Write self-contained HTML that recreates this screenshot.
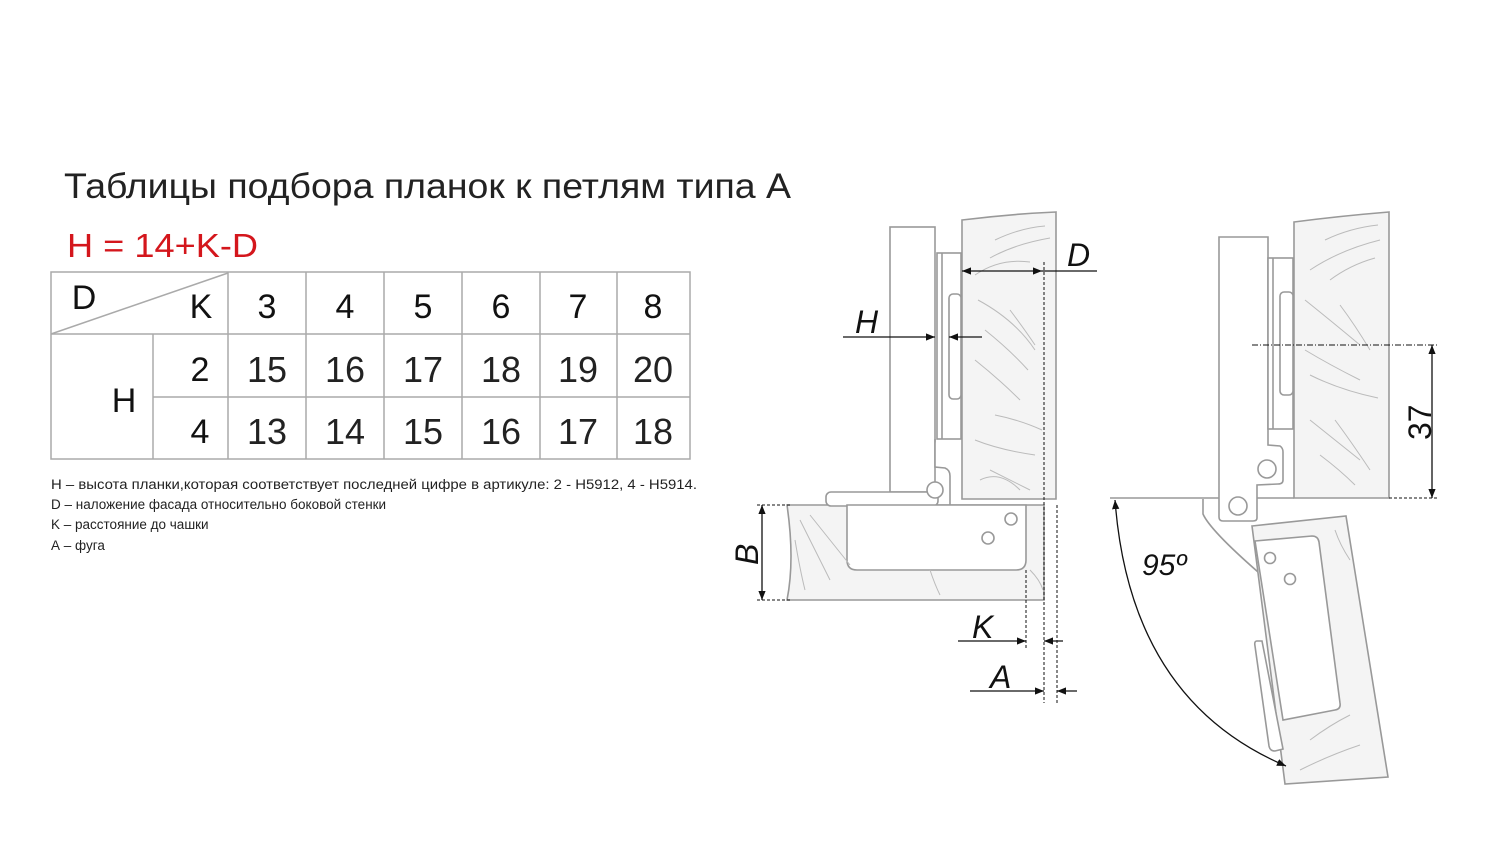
<!DOCTYPE html>
<html><head><meta charset="utf-8"><style>html,body{margin:0;padding:0;background:#fff}svg{display:block}</style></head><body>
<svg width="1500" height="844" viewBox="0 0 1500 844" xmlns="http://www.w3.org/2000/svg" font-family="'Liberation Sans', sans-serif">
<defs>
<marker id="ar" viewBox="0 0 10 10" refX="10" refY="5" markerWidth="7" markerHeight="7" orient="auto-start-reverse"><path d="M0,1 L10,5 L0,9z" fill="#111"/></marker>
</defs>
<!-- Title -->
<text x="64" y="198" font-size="35" fill="#222" textLength="727" lengthAdjust="spacingAndGlyphs">Таблицы подбора планок к петлям типа А</text>
<text x="67" y="257" font-size="33" fill="#d4161c" textLength="191" lengthAdjust="spacingAndGlyphs">H = 14+K-D</text>
<!-- Table -->
<g stroke="#aaa" stroke-width="1.5" fill="none">
<rect x="51" y="272" width="639" height="187"/>
<line x1="51" y1="334" x2="690" y2="334"/>
<line x1="153" y1="397" x2="690" y2="397"/>
<line x1="153" y1="334" x2="153" y2="459"/>
<line x1="228" y1="272" x2="228" y2="459"/>
<line x1="306" y1="272" x2="306" y2="459"/>
<line x1="384" y1="272" x2="384" y2="459"/>
<line x1="462" y1="272" x2="462" y2="459"/>
<line x1="540" y1="272" x2="540" y2="459"/>
<line x1="617" y1="272" x2="617" y2="459"/>
<line x1="51" y1="334" x2="228" y2="273"/>
</g>
<g font-size="34" fill="#111" text-anchor="middle">
<text x="84" y="309">D</text><text x="201" y="318">K</text>
<text x="267" y="318">3</text><text x="345" y="318">4</text><text x="423" y="318">5</text><text x="501" y="318">6</text><text x="578" y="318">7</text><text x="653" y="318">8</text>
<text x="124" y="412">H</text>
<text x="200" y="381">2</text><text x="200" y="443">4</text>
</g>
<g font-size="36" fill="#222" text-anchor="middle">
<text x="267" y="382">15</text><text x="345" y="382">16</text><text x="423" y="382">17</text><text x="501" y="382">18</text><text x="578" y="382">19</text><text x="653" y="382">20</text>
<text x="267" y="444">13</text><text x="345" y="444">14</text><text x="423" y="444">15</text><text x="501" y="444">16</text><text x="578" y="444">17</text><text x="653" y="444">18</text>
</g>
<g font-size="13.5" fill="#222">
<text x="51" y="489" textLength="646" lengthAdjust="spacingAndGlyphs">Н – высота планки,которая соответствует последней цифре в артикуле: 2 - H5912, 4 - H5914.</text>
<text x="51" y="509">D – наложение фасада относительно боковой стенки</text>
<text x="51" y="529">K – расстояние до чашки</text>
<text x="51" y="550">А – фуга</text>
</g>

<!-- Left drawing -->
<g stroke="#999" stroke-width="1.6" fill="none">
<path d="M962,220 Q1010,214 1056,212 L1056,499 L962,499 Z" fill="#f4f4f4"/>
<path d="M787,505 L1044,505 L1044,600 L787,600 Q795,560 787,505Z" fill="#f4f4f4"/>
<rect x="890" y="227" width="45" height="265" fill="#fff"/>
<rect x="937" y="253" width="24" height="186" fill="#fff"/>
<line x1="942" y1="253" x2="942" y2="439"/>
<rect x="949" y="294" width="12" height="105" rx="4" fill="#fff"/>
<path d="M935,439 L935,467 L945,468 Q950,470 950,476 L950,505" fill="#fff"/>
<rect x="826" y="492" width="112" height="14" rx="5" fill="#fff"/>
<circle cx="935" cy="490" r="8" fill="#fff"/>
<path d="M847,505 L1026,505 L1026,560 Q1026,570 1016,570 L857,570 Q847,570 847,560 Z" fill="#fff"/>
<circle cx="1011" cy="519" r="6"/><circle cx="988" cy="538" r="6"/>
</g>
<g stroke="#bbb" stroke-width="1" fill="none">
<path d="M995,240 Q1020,228 1045,226 M990,258 Q1015,244 1050,238 M975,275 Q1000,258 1030,262 M978,300 Q1015,320 1035,350 M985,330 Q1010,350 1028,370 M1010,310 Q1025,330 1035,345 M975,360 Q1000,380 1020,400 M995,415 Q1020,420 1042,430 M975,440 Q1000,450 1035,455 M980,480 Q1000,470 1020,490 M990,470 Q1010,480 1030,490 M800,520 Q820,560 830,580 M810,515 Q830,540 850,565 M795,540 Q800,570 805,590 M930,570 Q935,585 940,595 M1030,570 Q1040,580 1043,590"/>
</g>
<g stroke="#111" stroke-width="1.3" fill="none">
<line x1="962" y1="271" x2="1042" y2="271" marker-start="url(#ar)" marker-end="url(#ar)"/>
<line x1="1042" y1="271" x2="1097" y2="271"/>
<line x1="843" y1="337" x2="935" y2="337" marker-end="url(#ar)"/>
<line x1="982" y1="337" x2="949" y2="337" marker-end="url(#ar)"/>
<line x1="762" y1="505" x2="762" y2="600" marker-start="url(#ar)" marker-end="url(#ar)"/>
<line x1="958" y1="641" x2="1026" y2="641" marker-end="url(#ar)"/>
<line x1="1063" y1="641" x2="1044" y2="641" marker-end="url(#ar)"/>
<line x1="970" y1="691" x2="1044" y2="691" marker-end="url(#ar)"/>
<line x1="1077" y1="691" x2="1057" y2="691" marker-end="url(#ar)"/>
</g>
<g stroke="#111" stroke-width="1" stroke-dasharray="3,2" fill="none">
<line x1="1044" y1="262" x2="1044" y2="703"/>
<line x1="1057" y1="505" x2="1057" y2="703"/>
<line x1="1026" y1="570" x2="1026" y2="650"/>
<line x1="757" y1="505" x2="790" y2="505"/>
<line x1="757" y1="600" x2="790" y2="600"/>
</g>
<g font-size="32" font-style="italic" fill="#111">
<text x="1067" y="266">D</text>
<text x="855" y="333">H</text>
<text x="972" y="638">K</text>
<text x="990" y="688">A</text>
<text x="0" y="0" transform="translate(758,565) rotate(-90)">B</text>
</g>

<!-- Right drawing -->
<g stroke="#999" stroke-width="1.6" fill="none">
<path d="M1294,222 Q1340,216 1389,212 L1389,498 L1294,498 Z" fill="#f4f4f4"/>
<line x1="1110" y1="498" x2="1294" y2="498"/>
<path d="M1219,237 L1268,237 L1268,445 L1280,446 Q1283,448 1283,452 L1283,480 Q1283,484 1278,484 L1257,485 L1257,518 Q1257,521 1253,521 L1223,521 Q1219,521 1219,517 Z" fill="#fff"/>
<rect x="1268" y="258" width="25" height="171" fill="#fff"/>
<line x1="1273" y1="258" x2="1273" y2="429"/>
<rect x="1280" y="292" width="13" height="103" rx="4" fill="#fff"/>
<circle cx="1267" cy="469" r="9"/><circle cx="1238" cy="506" r="9"/>
<path d="M1203,499 L1203,514 Q1210,530 1258,572" />
<path d="M1252,526 L1346,516 L1388,777 L1285,784 Z" fill="#f4f4f4"/>
<path d="M1255,541 L1312,536 Q1318,536 1319,542 L1340,703 Q1341,709 1335,710 L1283,720 Z" fill="#fff"/>
<path d="M1257,641 L1262,641 L1283,749 L1275,751 Q1270,751 1269,746 L1255,646 Q1254,641 1257,641Z" fill="#fff"/>
<circle cx="1270" cy="558" r="5.5"/><circle cx="1290" cy="579" r="5.5"/>
</g>
<g stroke="#bbb" stroke-width="1" fill="none">
<path d="M1325,240 Q1350,228 1378,225 M1310,270 Q1340,250 1380,240 M1330,280 Q1350,265 1375,258 M1305,300 Q1330,320 1360,345 M1340,305 Q1355,325 1370,350 M1305,350 Q1330,365 1360,380 M1310,375 Q1340,390 1378,398 M1310,420 Q1335,440 1360,460 M1335,420 Q1350,440 1370,470 M1320,455 Q1340,470 1355,485 M1300,770 Q1330,755 1360,745 M1310,740 Q1330,725 1350,715 M1335,530 Q1340,545 1350,560"/>
</g>
<g stroke="#111" stroke-width="1" fill="none">
<line x1="1252" y1="345" x2="1437" y2="345" stroke-dasharray="6,2,1,2"/>
<line x1="1389" y1="498" x2="1437" y2="498" stroke-dasharray="3,2"/>
</g>
<g stroke="#111" stroke-width="1.3" fill="none">
<line x1="1432" y1="345" x2="1432" y2="498" marker-start="url(#ar)" marker-end="url(#ar)"/>
<path d="M1115,500 Q1130,700 1286,766" marker-start="url(#ar)" marker-end="url(#ar)"/>
</g>
<text x="0" y="0" transform="translate(1431,440) rotate(-90)" font-size="32" fill="#111">37</text>
<text x="1142" y="575" font-size="30" font-style="italic" fill="#111">95º</text>
</svg>
</body></html>
